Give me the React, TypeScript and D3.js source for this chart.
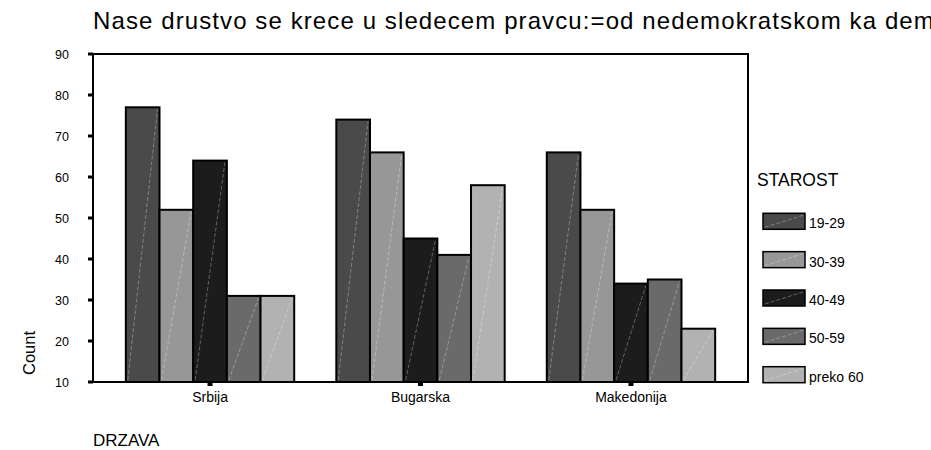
import React from "react";
import * as d3 from "d3";

const countries = ["Srbija", "Bugarska", "Makedonija"];
const ageGroups = ["19-29", "30-39", "40-49", "50-59", "preko 60"];
const age1929 = [77, 74, 66];
const age3039 = [52, 66, 52];
const age4049 = [64, 45, 34];
const age5059 = [31, 41, 35];
const agePreko60 = [31, 58, 23];
const yTickValues = [10, 20, 30, 40, 50, 60, 70, 80, 90];
const colors = ["#4a4a4a", "#979797", "#1c1c1c", "#6a6a6a", "#b2b2b2"];

const seriesValues = [age1929, age3039, age4049, age5059, agePreko60];
const titleText = "Nase drustvo se krece u sledecem pravcu:=od nedemokratskom ka demokratskom";

const FONT = "'Liberation Sans', Arial, Helvetica, sans-serif";

export default function App() {
  const W = 931;
  const H = 450;
  const left = 93, right = 748, top = 54, bottom = 382;

  const y = d3.scaleLinear().domain([10, 90]).range([bottom, top]);
  const x = d3
    .scaleBand<string>()
    .domain(countries)
    .range([left, right])
    .paddingInner(0.2)
    .paddingOuter(0.156);
  const xs = d3
    .scaleBand<string>()
    .domain(ageGroups)
    .range([0, x.bandwidth()])
    .padding(0);

  const legendY = d3
    .scaleLinear()
    .domain([0, ageGroups.length - 1])
    .range([213.3, 366.7]);

  return (
    <svg
      width={W}
      height={H}
      style={{ position: "absolute", left: 0, top: 0, background: "#fff" }}
      fontFamily={FONT}
    >
      <rect x={0} y={0} width={W} height={H} fill="#fff" />
      {/* title */}
      <text x={93} y={29} fontSize={24} fill="#000" style={{ letterSpacing: "1.1px" }}>
        {titleText}
      </text>

      {/* bars */}
      {countries.map((c, ci) => (
        <g key={c} transform={`translate(${x(c)},0)`}>
          {ageGroups.map((a, ai) => {
            const v = seriesValues[ai][ci];
            const bx = xs(a)!;
            const bw = xs.bandwidth();
            const by = y(v);
            const bh = bottom - by;
            return (
              <g key={a}>
                <rect x={bx} y={by} width={bw} height={bh} fill={colors[ai]} stroke="#000" strokeWidth={2} />
                <line
                  x1={bx + 2}
                  y1={bottom - 2}
                  x2={bx + bw - 2}
                  y2={by + 2}
                  stroke="#fff"
                  strokeOpacity={0.3}
                  strokeWidth={1}
                  strokeDasharray="4,2"
                />
              </g>
            );
          })}
        </g>
      ))}

      {/* frame */}
      <rect x={left} y={top} width={right - left} height={bottom - top} fill="none" stroke="#000" strokeWidth={2} />

      {/* y ticks */}
      {yTickValues.map((t) => (
        <g key={t}>
          <rect x={88} y={y(t) - 1.5} width={5} height={3} fill="#000" />
          <text x={69} y={y(t) + 4.5} fontSize={12.5} textAnchor="end" fill="#000">
            {t}
          </text>
        </g>
      ))}

      {/* x ticks */}
      {countries.map((c) => {
        const cx = x(c)! + x.bandwidth() / 2;
        return (
          <g key={c}>
            <rect x={cx - 2.5} y={bottom} width={5} height={4} fill="#000" />
            <text x={cx} y={402} fontSize={14} textAnchor="middle" fill="#000">
              {c}
            </text>
          </g>
        );
      })}

      {/* axis titles */}
      <text
        transform={`translate(35,353) rotate(-90)`}
        fontSize={16.5}
        textAnchor="middle"
        fill="#000"
      >
        Count
      </text>
      <text x={93} y={446} fontSize={17} fill="#000">
        DRZAVA
      </text>

      {/* legend */}
      <text x={757} y={186} fontSize={17.5} fill="#000">
        STAROST
      </text>
      {ageGroups.map((a, i) => {
        const ly = legendY(i);
        return (
          <g key={a}>
            <rect x={763} y={ly} width={42} height={16} fill={colors[i]} stroke="#000" strokeWidth={1.5} />
            <line
              x1={765}
              y1={ly + 14}
              x2={803}
              y2={ly + 2}
              stroke="#fff"
              strokeOpacity={0.3}
              strokeWidth={1}
              strokeDasharray="4,2"
            />
            <text x={809} y={ly + 15} fontSize={14} fill="#000">
              {a}
            </text>
          </g>
        );
      })}
    </svg>
  );
}
